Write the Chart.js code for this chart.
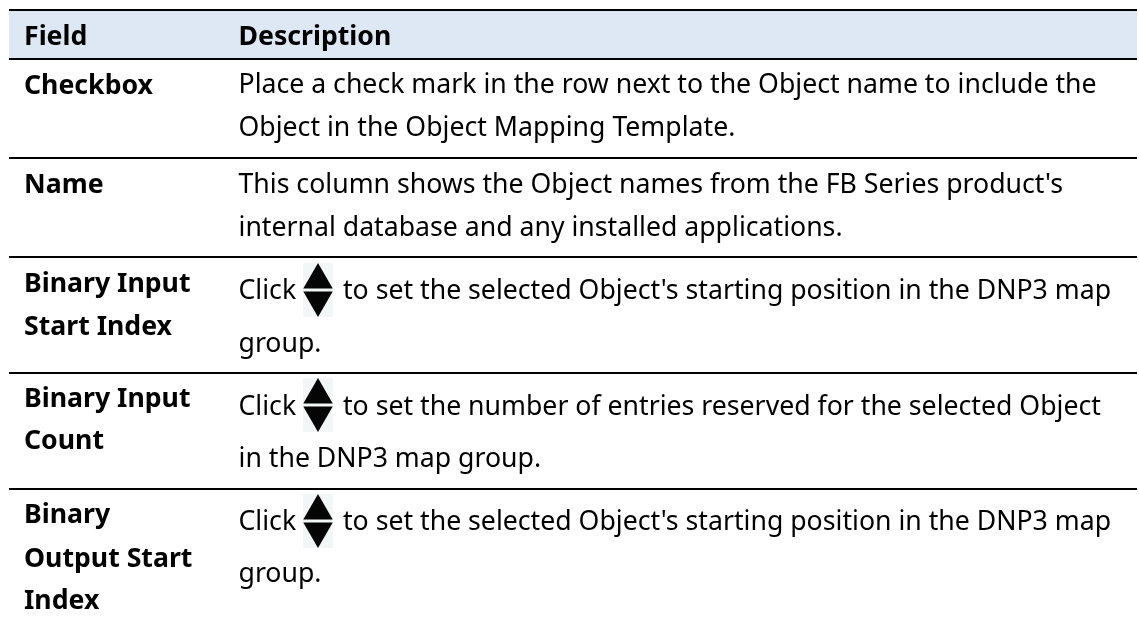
<!DOCTYPE html>
<html lang="en">
<head>
<meta charset="UTF-8">
<title>Object Mapping Fields</title>
<script src="https://cdn.jsdelivr.net/npm/chart.js"></script>
<style>
    html, body { margin: 0; padding: 0; background: #fff; }
    #wrap { width: 1139px; height: 623px; }
</style>
</head>
<body>
<div id="wrap"><canvas id="tableChart"></canvas></div>
<script>
// table content
const headerLabels = ["Field", "Description"];
const fieldLines = [
    ["Checkbox"],
    ["Name"],
    ["Binary Input", "Start Index"],
    ["Binary Input", "Count"],
    ["Binary", "Output Start", "Index"]
];
const descriptionLines = [
    ["Place a check mark in the row next to the Object name to include the", "Object in the Object Mapping Template."],
    ["This column shows the Object names from the FB Series product's", "internal database and any installed applications."],
    ["Click", "to set the selected Object's starting position in the DNP3 map", "group."],
    ["Click", "to set the number of entries reserved for the selected Object", "in the DNP3 map group."],
    ["Click", "to set the selected Object's starting position in the DNP3 map", "group."]
];

// the y axis runs 0-623 and x 9-1137, one unit to the pixel
const ruleValues = [10, 59, 158, 257, 373, 489];
const headerBaseline = 45;
const fieldLineBaselines = [
    [94],
    [193],
    [292, 335],
    [407, 449],
    [523, 567, 609]
];
const descriptionBaselines = [
    [93, 136],
    [193, 236],
    [299, 352],
    [415, 467],
    [530, 582]
];
const arrowRowCenters = [290, 405, 521];

const fieldX = 24;
const descriptionX = 238.5;
const afterArrowX = 343;
const arrowX = 318;

const textPlugin = {
    id: "tableText",
    afterDatasetsDraw(chart) {
        const { ctx, scales: { x, y } } = chart;
        const put = (text, xv, yv, bold) => {
            ctx.font = (bold ? "bold " : "") + "26.67px 'Noto Sans'";
            ctx.fillText(text, x.getPixelForValue(xv), y.getPixelForValue(yv));
        };
        ctx.save();
        ctx.fillStyle = "#000000";
        ctx.textBaseline = "alphabetic";
        put(headerLabels[0], fieldX, headerBaseline, true);
        put(headerLabels[1], descriptionX, headerBaseline, true);
        fieldLines.forEach((lines, r) => lines.forEach((t, i) => put(t, fieldX, fieldLineBaselines[r][i], true)));
        descriptionLines.forEach((lines, r) => {
            const base = descriptionBaselines[r];
            if (lines.length === 3) {
                put(lines[0], descriptionX, base[0]);
                put(lines[1], afterArrowX, base[0]);
                put(lines[2], descriptionX, base[1]);
            } else {
                lines.forEach((t, i) => put(t, descriptionX, base[i]));
            }
        });
        ctx.restore();
    }
};

new Chart(document.getElementById("tableChart"), {
    type: "scatter",
    data: {
        datasets: [
            // up and down halves of the spinner icon
            {
                data: arrowRowCenters.map(c => ({ x: arrowX, y: c - 10 })),
                pointStyle: "triangle", pointRadius: 17, backgroundColor: "#050505", borderWidth: 0
            },
            {
                data: arrowRowCenters.map(c => ({ x: arrowX, y: c + 10 })),
                pointStyle: "triangle", rotation: 180, pointRadius: 17, backgroundColor: "#050505", borderWidth: 0
            },
            // pale square behind the icon, two stacked
            {
                data: arrowRowCenters.flatMap(c => [{ x: arrowX, y: c - 12 }, { x: arrowX, y: c + 12 }]),
                pointStyle: "rect", pointRadius: 21, backgroundColor: "#f3f6f6", borderWidth: 0
            },
            // header band, kept inside its two 2px rules
            {
                type: "line",
                data: [{ x: 9, y: ruleValues[1] - 1 }, { x: 1137, y: ruleValues[1] - 1 }],
                borderWidth: 0, pointRadius: 0,
                backgroundColor: "#dde8f4",
                fill: { value: ruleValues[0] + 1 }
            }
        ]
    },
    options: {
        responsive: true,
        maintainAspectRatio: false,
        animation: false,
        layout: { autoPadding: false, padding: { left: 9, right: 2, top: 0, bottom: 0 } },
        plugins: { legend: { display: false }, tooltip: { enabled: false } },
        scales: {
            x: { type: "linear", min: 9, max: 1137, display: false },
            y: {
                type: "linear", min: 0, max: 623, reverse: true,
                border: { display: false },
                ticks: { display: false },
                afterBuildTicks: axis => { axis.ticks = ruleValues.map(v => ({ value: v })); },
                grid: { color: "#000000", lineWidth: 2, drawTicks: false }
            }
        }
    },
    plugins: [textPlugin]
});
</script>
</body>
</html>
